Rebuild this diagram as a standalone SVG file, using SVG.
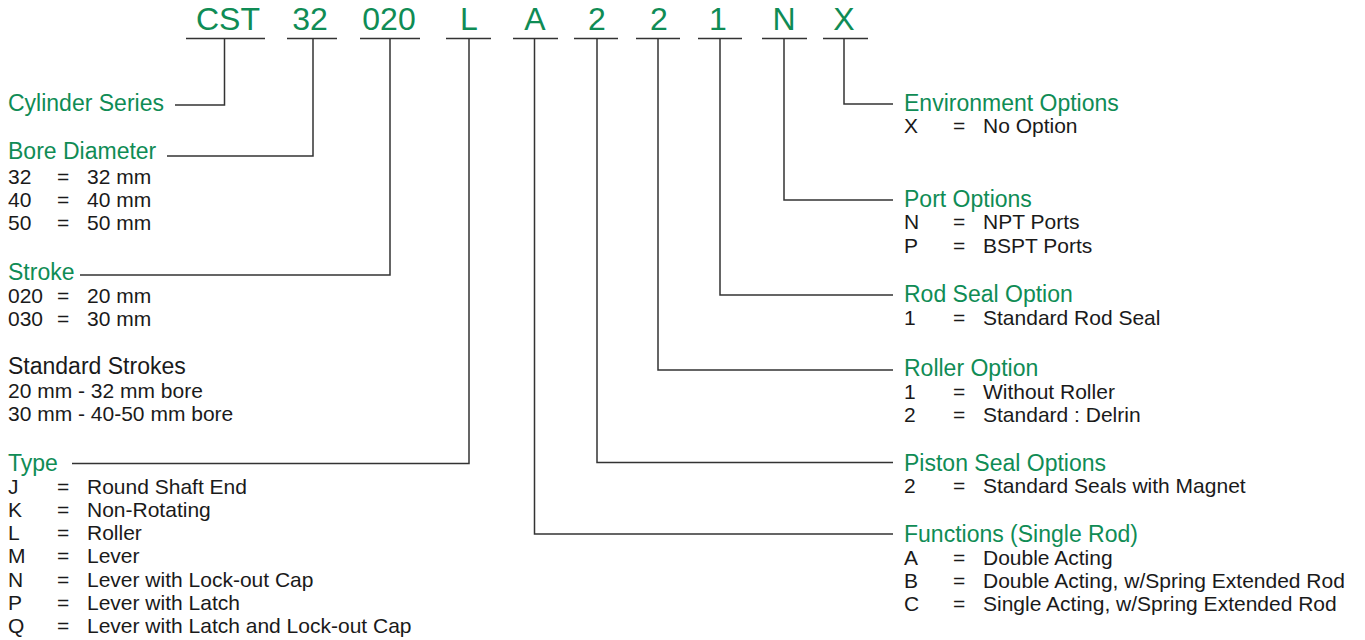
<svg xmlns="http://www.w3.org/2000/svg" width="1365" height="640" viewBox="0 0 1365 640">
<style>
text{font-family:"Liberation Sans",Arial,Helvetica,sans-serif;}
.code{font-size:32px;fill:#0f8c55;text-anchor:middle;}
.hd{font-size:23px;fill:#0f8c55;}
.bhd{font-size:23px;fill:#1a1a1a;}
.it{font-size:21px;fill:#1a1a1a;}
.ln{fill:none;stroke:#333;stroke-width:1.5;}
</style>
<rect width="1365" height="640" fill="#fff"/>
<g id="code">
<text class="code" x="228" y="29.5">CST</text>
<text class="code" x="310" y="29.5">32</text>
<text class="code" x="389" y="29.5">020</text>
<text class="code" x="469" y="29.5">L</text>
<text class="code" x="535" y="29.5">A</text>
<text class="code" x="597" y="29.5">2</text>
<text class="code" x="659" y="29.5">2</text>
<text class="code" x="718" y="29.5">1</text>
<text class="code" x="784" y="29.5">N</text>
<text class="code" x="844" y="29.5">X</text>
</g>
<g id="connectors">
<path class="ln" d="M186 38.5H265M287 38.5H337M360 38.5H420M446 38.5H491M513 38.5H558M574 38.5H618M636 38.5H680M698 38.5H742M762 38.5H807M823 38.5H868"/>
<path class="ln" d="M224.5 38.5V105H175"/>
<path class="ln" d="M313 38.5V156H167"/>
<path class="ln" d="M390 38.5V275H80"/>
<path class="ln" d="M469 38.5V463.5H72"/>
<path class="ln" d="M534.5 38.5V534H893"/>
<path class="ln" d="M597 38.5V462.5H893"/>
<path class="ln" d="M658 38.5V370H893"/>
<path class="ln" d="M720 38.5V295H893"/>
<path class="ln" d="M784 38.5V200H893"/>
<path class="ln" d="M844 38.5V104H893"/>
</g>
<g id="cylinder-series">
<text class="hd" x="8" y="111">Cylinder Series</text>
</g>
<g id="bore-diameter">
<text class="hd" x="8" y="159">Bore Diameter</text>
<text class="it" y="184"><tspan x="8">32</tspan><tspan x="57">=</tspan><tspan x="87">32 mm</tspan></text>
<text class="it" y="207"><tspan x="8">40</tspan><tspan x="57">=</tspan><tspan x="87">40 mm</tspan></text>
<text class="it" y="230"><tspan x="8">50</tspan><tspan x="57">=</tspan><tspan x="87">50 mm</tspan></text>
</g>
<g id="stroke">
<text class="hd" x="8" y="280">Stroke</text>
<text class="it" y="303"><tspan x="8">020</tspan><tspan x="57">=</tspan><tspan x="87">20 mm</tspan></text>
<text class="it" y="326"><tspan x="8">030</tspan><tspan x="57">=</tspan><tspan x="87">30 mm</tspan></text>
<text class="bhd" x="8" y="374">Standard Strokes</text>
<text class="it" x="8" y="398">20 mm - 32 mm bore</text>
<text class="it" x="8" y="421">30 mm - 40-50 mm bore</text>
</g>
<g id="type">
<text class="hd" x="8" y="471">Type</text>
<text class="it" y="494"><tspan x="8">J</tspan><tspan x="57">=</tspan><tspan x="87">Round Shaft End</tspan></text>
<text class="it" y="517"><tspan x="8">K</tspan><tspan x="57">=</tspan><tspan x="87">Non-Rotating</tspan></text>
<text class="it" y="540"><tspan x="8">L</tspan><tspan x="57">=</tspan><tspan x="87">Roller</tspan></text>
<text class="it" y="563"><tspan x="8">M</tspan><tspan x="57">=</tspan><tspan x="87">Lever</tspan></text>
<text class="it" y="587"><tspan x="8">N</tspan><tspan x="57">=</tspan><tspan x="87">Lever with Lock-out Cap</tspan></text>
<text class="it" y="610"><tspan x="8">P</tspan><tspan x="57">=</tspan><tspan x="87">Lever with Latch</tspan></text>
<text class="it" y="633"><tspan x="8">Q</tspan><tspan x="57">=</tspan><tspan x="87">Lever with Latch and Lock-out Cap</tspan></text>
</g>
<g id="environment-options">
<text class="hd" x="904" y="111">Environment Options</text>
<text class="it" y="133"><tspan x="904">X</tspan><tspan x="953">=</tspan><tspan x="983">No Option</tspan></text>
</g>
<g id="port-options">
<text class="hd" x="904" y="207">Port Options</text>
<text class="it" y="229"><tspan x="904">N</tspan><tspan x="953">=</tspan><tspan x="983">NPT Ports</tspan></text>
<text class="it" y="253"><tspan x="904">P</tspan><tspan x="953">=</tspan><tspan x="983">BSPT Ports</tspan></text>
</g>
<g id="rod-seal-option">
<text class="hd" x="904" y="302">Rod Seal Option</text>
<text class="it" y="325"><tspan x="904">1</tspan><tspan x="953">=</tspan><tspan x="983">Standard Rod Seal</tspan></text>
</g>
<g id="roller-option">
<text class="hd" x="904" y="376">Roller Option</text>
<text class="it" y="399"><tspan x="904">1</tspan><tspan x="953">=</tspan><tspan x="983">Without Roller</tspan></text>
<text class="it" y="422"><tspan x="904">2</tspan><tspan x="953">=</tspan><tspan x="983">Standard : Delrin</tspan></text>
</g>
<g id="piston-seal-options">
<text class="hd" x="904" y="471">Piston Seal Options</text>
<text class="it" y="493"><tspan x="904">2</tspan><tspan x="953">=</tspan><tspan x="983">Standard Seals with Magnet</tspan></text>
</g>
<g id="functions">
<text class="hd" x="904" y="542">Functions (Single Rod)</text>
<text class="it" y="565"><tspan x="904">A</tspan><tspan x="953">=</tspan><tspan x="983">Double Acting</tspan></text>
<text class="it" y="588"><tspan x="904">B</tspan><tspan x="953">=</tspan><tspan x="983">Double Acting, w/Spring Extended Rod</tspan></text>
<text class="it" y="611"><tspan x="904">C</tspan><tspan x="953">=</tspan><tspan x="983">Single Acting, w/Spring Extended Rod</tspan></text>
</g>
</svg>
